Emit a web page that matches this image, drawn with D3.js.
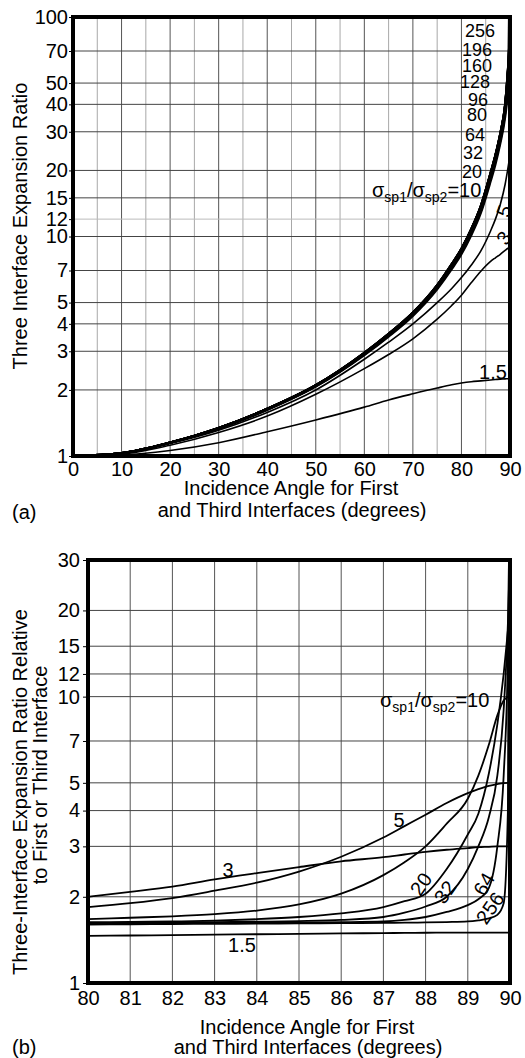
<!DOCTYPE html>
<html>
<head>
<meta charset="utf-8">
<script src="https://cdn.jsdelivr.net/npm/d3@7"></script>
<style>
  body { margin: 0; background: #fff; }
  svg { display: block; font-family: "Liberation Sans", Arial, sans-serif; }
</style>
</head>
<body>
<svg></svg>
<script>
var width = 525;
var height = 1058;
var svg = d3.select("svg")
            .attr("width", width)
            .attr("height", height);

// ---- panel (a) data ----
var anglesA = [0, 10, 20, 30, 40, 50, 60, 65, 70, 75, 78, 80, 82, 84, 86, 87, 88, 89, 89.5, 89.8, 90];
var ratioA_1_5 = [1, 1.01, 1.06, 1.15, 1.29, 1.46, 1.67, 1.8, 1.92, 2.04, 2.11, 2.15, 2.18, 2.2, 2.22, 2.23, 2.24, 2.245, 2.25, 2.25, 2.25];
var ratioA_3   = [1, 1.02, 1.12, 1.28, 1.52, 1.91, 2.5, 2.9, 3.42, 4.2, 4.85, 5.4, 6.15, 6.95, 7.7, 8.0, 8.3, 8.65, 8.82, 8.9, 8.95];
var ratioA_5   = [1, 1.03, 1.14, 1.31, 1.58, 2.0, 2.76, 3.3, 4.0, 5.0, 5.8, 6.5, 7.4, 8.6, 10.6, 12.0, 14.0, 17.3, 20, 22, 23.5];
var ratioA_10  = [1, 1.03, 1.15, 1.33, 1.62, 2.07, 2.88, 3.5, 4.35, 5.75, 7.1, 8.3, 10.1, 12.8, 17.8, 21.3, 26.5, 35, 44, 58, 100];
var ratioA_20  = [1, 1.03, 1.15, 1.34, 1.63, 2.08, 2.9, 3.53, 4.4, 5.83, 7.2, 8.45, 10.3, 13.1, 18.3, 22, 27.3, 36.5, 47, 63, 400];
var ratioA_32  = [1, 1.03, 1.15, 1.34, 1.63, 2.09, 2.92, 3.56, 4.44, 5.9, 7.3, 8.6, 10.5, 13.4, 18.7, 22.6, 28.1, 38, 49.5, 66, 1024];
var ratioA_64  = [1, 1.03, 1.15, 1.34, 1.64, 2.1, 2.93, 3.58, 4.47, 5.95, 7.4, 8.7, 10.65, 13.6, 19.1, 23.1, 28.9, 39, 52, 69, 4096];
var ratioA_80  = [1, 1.03, 1.15, 1.34, 1.64, 2.1, 2.94, 3.59, 4.48, 5.97, 7.43, 8.74, 10.7, 13.68, 19.25, 23.25, 29.1, 39.4, 53, 70, 6400];
var ratioA_96  = [1, 1.03, 1.15, 1.34, 1.64, 2.1, 2.94, 3.59, 4.49, 5.98, 7.45, 8.76, 10.73, 13.72, 19.35, 23.35, 29.25, 39.6, 53.5, 70.5, 9216];
var ratioA_128 = [1, 1.03, 1.15, 1.34, 1.64, 2.1, 2.95, 3.6, 4.49, 5.99, 7.47, 8.78, 10.76, 13.76, 19.42, 23.42, 29.35, 39.8, 54, 71, 16384];
var ratioA_160 = [1, 1.03, 1.15, 1.34, 1.64, 2.1, 2.95, 3.6, 4.5, 6.0, 7.48, 8.79, 10.78, 13.78, 19.46, 23.46, 29.42, 39.9, 54.5, 71.5, 25600];
var ratioA_196 = [1, 1.03, 1.15, 1.34, 1.64, 2.1, 2.95, 3.6, 4.5, 6.0, 7.49, 8.8, 10.79, 13.79, 19.48, 23.48, 29.46, 39.95, 54.8, 72, 38416];
var ratioA_256 = [1, 1.03, 1.15, 1.34, 1.64, 2.1, 2.95, 3.6, 4.5, 6.0, 7.5, 8.8, 10.8, 13.8, 19.5, 23.5, 29.5, 40, 55, 72.5, 65536];
var seriesA = [ratioA_1_5, ratioA_3, ratioA_5, ratioA_10, ratioA_20, ratioA_32, ratioA_64,
               ratioA_80, ratioA_96, ratioA_128, ratioA_160, ratioA_196, ratioA_256];

var xTicksA = [0, 10, 20, 30, 40, 50, 60, 70, 80, 90];
var xMinorA = [5, 15, 25, 35, 45, 55, 65, 75, 85];
var yTicksA = [1, 2, 3, 4, 5, 7, 10, 12, 15, 20, 30, 40, 50, 70, 100];
var bundleLabelsA = ["256", "196", "160", "128", "96", "80", "64", "32", "20"];

// ---- panel (b) data ----
var anglesB = [80, 81, 82, 83, 84, 85, 86, 87, 87.5, 88, 88.5, 89, 89.25, 89.5, 89.7, 89.85, 89.95, 90];
var ratioB_1_5 = [1.46, 1.465, 1.47, 1.475, 1.48, 1.485, 1.49, 1.494, 1.496, 1.498, 1.499, 1.5, 1.5, 1.5, 1.5, 1.5, 1.5, 1.5];
var ratioB_3   = [2.0, 2.08, 2.17, 2.3, 2.42, 2.54, 2.66, 2.75, 2.81, 2.87, 2.92, 2.96, 2.98, 2.99, 3.0, 3.0, 3.0, 3.0];
var ratioB_5   = [1.84, 1.9, 1.98, 2.1, 2.24, 2.45, 2.76, 3.22, 3.53, 3.87, 4.25, 4.6, 4.75, 4.88, 4.95, 4.99, 5.0, 5.0];
var ratioB_10  = [1.67, 1.69, 1.71, 1.74, 1.79, 1.88, 2.05, 2.38, 2.64, 3.0, 3.6, 4.4, 5.3, 6.8, 8.6, 9.7, 9.97, 10];
var ratioB_20  = [1.63, 1.635, 1.64, 1.65, 1.67, 1.7, 1.75, 1.84, 1.93, 2.05, 2.5, 3.3, 3.9, 5.4, 8.0, 12, 17, 20];
var ratioB_32  = [1.62, 1.624, 1.628, 1.632, 1.637, 1.645, 1.66, 1.7, 1.76, 1.85, 2.0, 2.5, 3.0, 3.8, 5.3, 9, 18, 32];
var ratioB_64  = [1.61, 1.613, 1.616, 1.619, 1.622, 1.625, 1.63, 1.64, 1.66, 1.7, 1.77, 1.87, 1.96, 2.15, 3.0, 5.3, 14, 64];
var ratioB_256 = [1.6, 1.603, 1.606, 1.609, 1.612, 1.615, 1.618, 1.621, 1.624, 1.627, 1.632, 1.64, 1.655, 1.68, 1.73, 1.9, 4, 256];
var seriesB = [ratioB_1_5, ratioB_3, ratioB_5, ratioB_10, ratioB_20, ratioB_32, ratioB_64, ratioB_256];

var xTicksB = [80, 81, 82, 83, 84, 85, 86, 87, 88, 89, 90];
var yTicksB = [1, 2, 3, 4, 5, 7, 10, 12, 15, 20, 30];

// ---- layout ----
var boxA = {left: 73, right: 510, top: 17, bottom: 456};
var boxB = {left: 88, right: 510, top: 560, bottom: 983};

var xScaleA = d3.scaleLinear().domain([0, 90]).range([boxA.left, boxA.right]);
var yScaleA = d3.scaleLog().domain([1, 100]).range([boxA.bottom, boxA.top]);
var xScaleB = d3.scaleLinear().domain([80, 90]).range([boxB.left, boxB.right]);
var yScaleB = d3.scaleLog().domain([1, 30]).range([boxB.bottom, boxB.top]);

var defs = svg.append("defs");
defs.append("clipPath").attr("id", "clipA").append("rect")
    .attr("x", boxA.left).attr("y", boxA.top)
    .attr("width", boxA.right - boxA.left).attr("height", boxA.bottom - boxA.top);
defs.append("clipPath").attr("id", "clipB").append("rect")
    .attr("x", boxB.left).attr("y", boxB.top)
    .attr("width", boxB.right - boxB.left).attr("height", boxB.bottom - boxB.top);

// ===== panel (a) =====
var gA = svg.append("g");

// grid
gA.selectAll(".vminor").data(xMinorA).enter().append("line")
  .attr("x1", function(d) { return xScaleA(d); }).attr("x2", function(d) { return xScaleA(d); })
  .attr("y1", boxA.top).attr("y2", boxA.bottom)
  .attr("stroke", "#a8a8a8").attr("stroke-width", 1);
gA.selectAll(".vmajor").data(xTicksA).enter().append("line")
  .attr("x1", function(d) { return xScaleA(d); }).attr("x2", function(d) { return xScaleA(d); })
  .attr("y1", boxA.top).attr("y2", boxA.bottom)
  .attr("stroke", "#555").attr("stroke-width", 1);
gA.selectAll(".hgrid").data(yTicksA).enter().append("line")
  .attr("x1", boxA.left).attr("x2", boxA.right)
  .attr("y1", function(d) { return yScaleA(d); }).attr("y2", function(d) { return yScaleA(d); })
  .attr("stroke", function(d) { return d == 12 ? "#bbb" : "#444"; })
  .attr("stroke-width", 1);

// axes (labels only, the frame is drawn separately)
gA.append("g")
  .attr("transform", "translate(0," + boxA.bottom + ")")
  .call(d3.axisBottom(xScaleA).tickValues(xTicksA).tickSize(0).tickPadding(6).tickFormat(d3.format("d")))
  .call(function(g) { g.select(".domain").remove(); })
  .selectAll("text").attr("font-size", 20).attr("font-family", "Liberation Sans, Arial").attr("fill", "#000");
gA.append("g")
  .attr("transform", "translate(" + boxA.left + ",0)")
  .call(d3.axisLeft(yScaleA).tickValues(yTicksA).tickSize(4).tickPadding(1).tickFormat(d3.format("d")))
  .call(function(g) { g.select(".domain").remove(); })
  .selectAll("text").attr("font-size", 20).attr("font-family", "Liberation Sans, Arial").attr("fill", "#000");

var lineA = d3.line()
              .x(function(d, i) { return xScaleA(anglesA[i]); })
              .y(function(d) { return yScaleA(d); })
              .curve(d3.curveMonotoneX);

gA.append("g").attr("clip-path", "url(#clipA)")
  .selectAll("path").data(seriesA).enter().append("path")
  .attr("d", lineA)
  .attr("fill", "none")
  .attr("stroke", "#000")
  .attr("stroke-width", function(d, i) { return i < 3 ? 1.6 : 2.2; });

gA.append("rect")
  .attr("x", boxA.left).attr("y", boxA.top)
  .attr("width", boxA.right - boxA.left).attr("height", boxA.bottom - boxA.top)
  .attr("fill", "none").attr("stroke", "#000").attr("stroke-width", 4);

// curve labels (a), stacked beside the bundle
gA.selectAll(".blab").data(bundleLabelsA).enter().append("text")
  .attr("x", function(d, i) { return [495, 492, 492, 490, 488, 487, 485, 483, 482][i]; })
  .attr("y", function(d, i) { return [31, 50, 66, 82, 100, 115, 135, 153, 172][i]; })
  .attr("text-anchor", "end")
  .attr("dominant-baseline", "central")
  .attr("font-size", 18)
  .text(function(d) { return d; });

var ratioLabelA = gA.append("text").attr("x", 372).attr("y", 197).attr("font-size", 20);
ratioLabelA.append("tspan").text("σ");
ratioLabelA.append("tspan").attr("font-size", 14).attr("dy", 5).text("sp1");
ratioLabelA.append("tspan").attr("dy", -5).text("/σ");
ratioLabelA.append("tspan").attr("font-size", 14).attr("dy", 5).text("sp2");
ratioLabelA.append("tspan").attr("dy", -5).text("=10");

gA.append("text").attr("transform", "translate(504,211) rotate(-70)")
  .attr("text-anchor", "middle").attr("dominant-baseline", "central").attr("font-size", 20).text("5");
gA.append("text").attr("transform", "translate(504,238) rotate(-55)")
  .attr("text-anchor", "middle").attr("dominant-baseline", "central").attr("font-size", 20).text("3");
gA.append("text").attr("x", 493).attr("y", 372)
  .attr("text-anchor", "middle").attr("dominant-baseline", "central").attr("font-size", 20).text("1.5");

// titles (a)
gA.append("text").attr("transform", "translate(27,226) rotate(-90)")
  .attr("text-anchor", "middle").attr("font-size", 20).text("Three Interface Expansion Ratio");
gA.append("text").attr("x", 291).attr("y", 495)
  .attr("text-anchor", "middle").attr("font-size", 20).text("Incidence Angle for First");
gA.append("text").attr("x", 292).attr("y", 517)
  .attr("text-anchor", "middle").attr("font-size", 20).text("and Third Interfaces (degrees)");
gA.append("text").attr("x", 12).attr("y", 519).attr("font-size", 20).text("(a)");

// ===== panel (b) =====
var gB = svg.append("g");

gB.selectAll(".vgrid").data(xTicksB).enter().append("line")
  .attr("x1", function(d) { return xScaleB(d); }).attr("x2", function(d) { return xScaleB(d); })
  .attr("y1", boxB.top).attr("y2", boxB.bottom)
  .attr("stroke", "#555").attr("stroke-width", 1);
gB.selectAll(".hgrid").data(yTicksB).enter().append("line")
  .attr("x1", boxB.left).attr("x2", boxB.right)
  .attr("y1", function(d) { return yScaleB(d); }).attr("y2", function(d) { return yScaleB(d); })
  .attr("stroke", "#444").attr("stroke-width", 1);

gB.append("g")
  .attr("transform", "translate(0," + boxB.bottom + ")")
  .call(d3.axisBottom(xScaleB).tickValues(xTicksB).tickSize(0).tickPadding(8).tickFormat(d3.format("d")))
  .call(function(g) { g.select(".domain").remove(); })
  .selectAll("text").attr("font-size", 20).attr("font-family", "Liberation Sans, Arial").attr("fill", "#000");
gB.append("g")
  .attr("transform", "translate(" + boxB.left + ",0)")
  .call(d3.axisLeft(yScaleB).tickValues(yTicksB).tickSize(5).tickPadding(3).tickFormat(d3.format("d")))
  .call(function(g) { g.select(".domain").remove(); })
  .selectAll("text").attr("font-size", 20).attr("font-family", "Liberation Sans, Arial").attr("fill", "#000");

var lineB = d3.line()
              .x(function(d, i) { return xScaleB(anglesB[i]); })
              .y(function(d) { return yScaleB(d); })
              .curve(d3.curveMonotoneX);

gB.append("g").attr("clip-path", "url(#clipB)")
  .selectAll("path").data(seriesB).enter().append("path")
  .attr("d", lineB)
  .attr("fill", "none")
  .attr("stroke", "#000")
  .attr("stroke-width", 1.8);

gB.append("rect")
  .attr("x", boxB.left).attr("y", boxB.top)
  .attr("width", boxB.right - boxB.left).attr("height", boxB.bottom - boxB.top)
  .attr("fill", "none").attr("stroke", "#000").attr("stroke-width", 4);

// curve labels (b)
var ratioLabelB = gB.append("text").attr("x", 380).attr("y", 707).attr("font-size", 20);
ratioLabelB.append("tspan").text("σ");
ratioLabelB.append("tspan").attr("font-size", 14).attr("dy", 5).text("sp1");
ratioLabelB.append("tspan").attr("dy", -5).text("/σ");
ratioLabelB.append("tspan").attr("font-size", 14).attr("dy", 5).text("sp2");
ratioLabelB.append("tspan").attr("dy", -5).text("=10");

var labelsB = [
  {t: "5", x: 399, y: 820, r: 0},
  {t: "3", x: 228, y: 870, r: 0},
  {t: "1.5", x: 242, y: 945, r: 0},
  {t: "20", x: 421, y: 884, r: -55},
  {t: "32", x: 445, y: 892, r: -55},
  {t: "64", x: 484, y: 884, r: -60},
  {t: "256", x: 490, y: 908, r: -55}
];
gB.selectAll(".clab").data(labelsB).enter().append("text")
  .attr("transform", function(d) { return "translate(" + d.x + "," + d.y + ") rotate(" + d.r + ")"; })
  .attr("text-anchor", "middle").attr("dominant-baseline", "central")
  .attr("font-size", 20)
  .text(function(d) { return d.t; });

// titles (b)
gB.append("text").attr("transform", "translate(27,792) rotate(-90)")
  .attr("text-anchor", "middle").attr("font-size", 20).text("Three-Interface Expansion Ratio Relative");
gB.append("text").attr("transform", "translate(47,775) rotate(-90)")
  .attr("text-anchor", "middle").attr("font-size", 20).text("to First or Third Interface");
gB.append("text").attr("x", 307).attr("y", 1034)
  .attr("text-anchor", "middle").attr("font-size", 20).text("Incidence Angle for First");
gB.append("text").attr("x", 308).attr("y", 1054)
  .attr("text-anchor", "middle").attr("font-size", 20).text("and Third Interfaces (degrees)");
gB.append("text").attr("x", 12).attr("y", 1054).attr("font-size", 20).text("(b)");
</script>
</body>
</html>
